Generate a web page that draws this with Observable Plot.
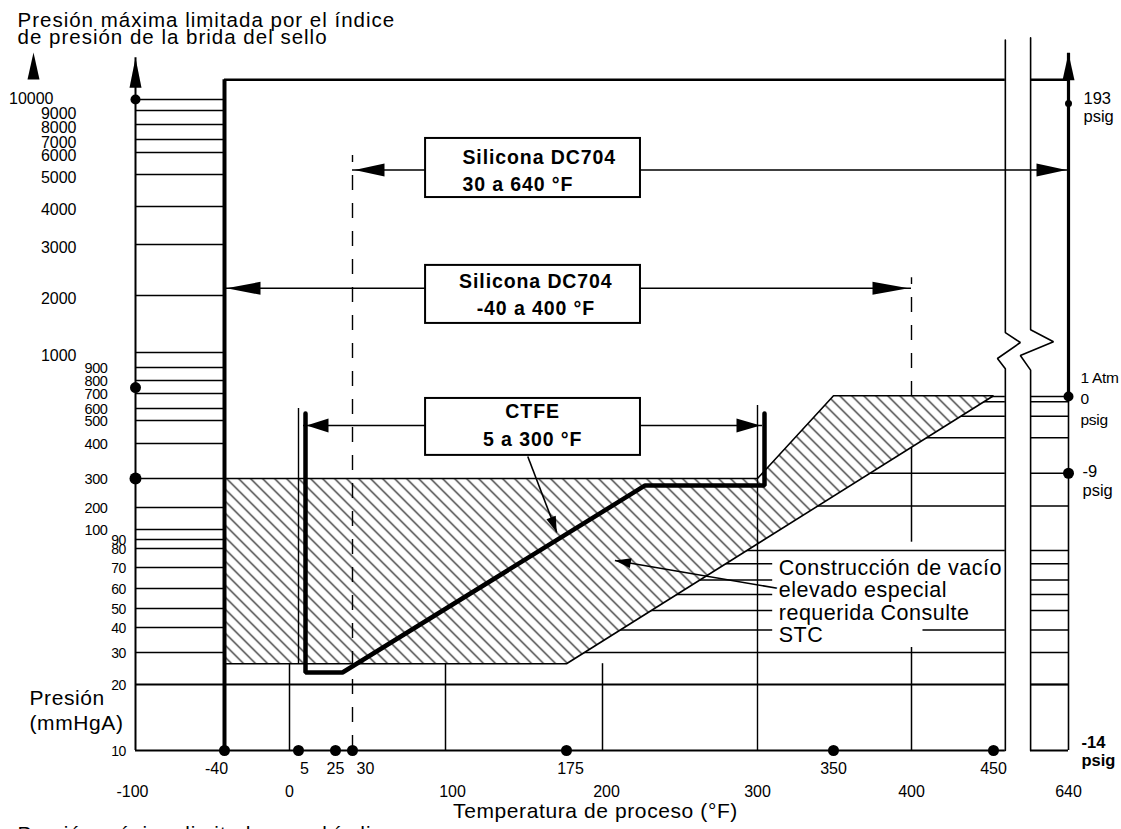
<!DOCTYPE html>
<html>
<head>
<meta charset="utf-8">
<script src="https://cdn.jsdelivr.net/npm/d3@7"></script>
<script src="https://cdn.jsdelivr.net/npm/@observablehq/plot@0.6"></script>
<style>
html, body { margin: 0; padding: 0; background: #fff; }
#chart svg { display: block; }
g[font-size="20.5"] { letter-spacing: 1.0px; }
g[font-size="21"] { letter-spacing: 0.6px; }
g[font-size="21.5"] { letter-spacing: 0.5px; paint-order: stroke; }
g[font-size="19.5"] { letter-spacing: 0.9px; }
g[font-size="15.5"] { letter-spacing: -0.3px; }
g[font-size="14.5"] { letter-spacing: -0.4px; }
g[font-size="14"] { letter-spacing: -0.7px; }
</style>
</head>
<body>
<div id="chart"></div>
<script>
// ---------------- data ----------------
// break points of the (non-uniform) temperature axis, °F
const tempBreaks = [-100, -40, 0, 5, 25, 30, 100, 175, 200, 300, 350, 400, 450, 640];
// break points of the (non-uniform) pressure axis, mmHgA
const pressBreaks = [10, 20, 30, 40, 50, 60, 70, 80, 90, 100, 200, 300, 400, 500, 600, 700, 800, 900, 1000, 2000, 3000, 4000, 5000, 6000, 7000, 8000, 9000, 10000];

// tick labels
const xLabelsUpper = [-40, 5, 25, 30, 175, 350, 450];
const xLabelsLower = [-100, 0, 100, 200, 300, 400, 640];
const yLabelsTenThousand = [10000];
const yLabelsThousands = [9000, 8000, 7000, 6000, 5000, 4000, 3000, 2000, 1000];
const yLabelsHundreds = [900, 800, 700, 600, 500, 400, 300, 200, 100];
const yLabelsTens = [90, 80, 70, 60, 50, 40, 30, 20, 10];

// pressure levels ruled in the left strip (-100 .. -40 °F)
const leftStripLevels = [10000, 9000, 8000, 7000, 6000, 5000, 4000, 3000, 2000, 1000, 900, 800, 700, 600, 500, 400, 300, 200, 100, 90, 80, 70, 60, 50, 40, 30];
const fullWidthLevels = [20, 10];

// extents of the drawing (°F / mmHgA)
const axisLeftTop = 13800, axisRightTop = 14200, frameTop = 11800;
const breakTemps = [480, 544];
const gridTempsBelowZone = [0, 100, 200];
const zoneBottom = 26.5;

// psig grid (right part of the chart)
const psigLevels = [680, 645, 535, 425, 315, 205, 79, 72, 64, 57, 49, 39, 30, 20];
const psigMain = [
  {p: 680, t0: 350, t1: 480}, {p: 645, t0: 440, t1: 480}, {p: 535, t0: 420, t1: 480},
  {p: 425, t0: 405, t1: 480}, {p: 315, t0: 370, t1: 480}, {p: 205, t0: 175, t1: 480},
  {p: 79, t0: 175, t1: 480}, {p: 72, t0: 175, t1: 310}, {p: 64, t0: 175, t1: 310},
  {p: 57, t0: 175, t1: 310}, {p: 49, t0: 175, t1: 310}, {p: 39, t0: 175, t1: 310},
  {p: 39, t0: 407, t1: 480}, {p: 30, t0: 175, t1: 480}
];

// special high vacuum construction zone
const vacuumZone = [
  {t: -40, p: 300}, {t: 300, p: 300}, {t: 350, p: 685}, {t: 450, p: 685},
  {t: 175, p: 26.5}, {t: -40, p: 26.5}, {t: -40, p: 300}
];

// CTFE limit line
const ctfePath = [
  {t: 5, p: 558}, {t: 5, p: 23.75}, {t: 25, p: 23.75}, {t: 223, p: 276}, {t: 300, p: 276}, {t: 300, p: 558}
];

// thin reference verticals
const refVerticals = [{t: 5, p0: 26.5, p1: 600}, {t: 300, p0: 10, p1: 620}];
const line400Solid = [{p0: 10, p1: 32}, {p0: 87, p1: 680}];
const dashedVerticals = [{t: 30, p0: 10, p1: 5860}, {t: 400, p0: 680, p1: 2350}];

// axis break zig-zags
const breakLeft = [{t: 480, p: 15400}, {t: 480, p: 1350}, {t: 518, p: 1175}, {t: 460, p: 960}, {t: 480, p: 890}, {t: 480, p: 10}];
const breakRight = [{t: 544, p: 15600}, {t: 544, p: 1400}, {t: 602, p: 1190}, {t: 518, p: 980}, {t: 544, p: 880}, {t: 544, p: 10}];

// fill-fluid ranges
const siliconaHigh = {t0: 30, t1: 640, p: 5200};
const siliconaLow = {t0: -40, t1: 400, p: 2140};
const ctfeRange = {t0: 5, t1: 300, p: 478};
const boxes = [
  {t0: 85, t1: 224.5, p0: 4280, p1: 7070},
  {t0: 85, t1: 224.5, p0: 1510, p1: 2590},
  {t0: 85, t1: 224.5, p0: 366, p1: 667}
];
const boxLabelHigh = {t: 110.5, p: 4470, text: "Silicona DC704\n30 a 640 °F"};
const boxLabelsCentered = [
  {t: 156, p: 1650, text: "Silicona DC704\n-40 a 400 °F"},
  {t: 154, p: 394, text: "CTFE\n5 a 300 °F"}
];
const pointers = [
  {t0: 151, p0: 363, t1: 169, p1: 97},
  {t0: 314, p0: 60, t1: 208, p1: 73.7}
];
const zoneNote = {t: 314, p: 74.7, text: "Construcción de vacío\nelevado especial\nrequerida Consulte\nSTC"};

// marked points
const leftAxisDots = [{p: 10000, r: 5}, {p: 746, r: 5.5}, {p: 300, r: 6}];
const rightAxisDots = [{p: 9640, r: 3.5}, {p: 680, r: 5}, {p: 315, r: 5.5}];
const bottomDots = [-40, 5, 25, 30, 175, 350, 450];

// right-hand gauge labels
const rightLabels = [
  {p: 9640, text: "193\npsig"},
  {p: 680, text: "1 Atm\n0\npsig"},
  {p: 315, text: "-9\npsig"}
];
const rightLabelBottom = {p: 10, text: "-14\npsig"};

// ---------------- helpers ----------------
function arrowHead(angleDeg, len, hw) {
  const a = angleDeg * Math.PI / 180, c = Math.cos(a), s = Math.sin(a);
  return {
    draw(ctx) {
      const bx = -len * c, by = -len * s;
      ctx.moveTo(0, 0);
      ctx.lineTo(bx - hw * s, by + hw * c);
      ctx.lineTo(bx + hw * s, by - hw * c);
      ctx.closePath();
    }
  };
}
const head = (data, angle, len, hw, extra = {}) =>
  Plot.dot(data, {x: "t", y: "p", symbol: arrowHead(angle, len, hw), fill: "black", stroke: "none", r: 5, ...extra});

// small horizontal nudges of the tick labels (style only)
const nudgeUpper = d => d === 30 ? 13 : d === 5 ? 6 : d === -40 ? -8 : d === 175 ? 4 : 0;
const nudgeLower = d => d === 100 ? 7 : d === 200 ? 4 : d === -100 ? -3 : 0;

// ---------------- chart ----------------
const svg = Plot.plot({
  width: 1121,
  height: 829,
  margin: 0,
  style: {fontFamily: "'Liberation Sans', Arial, sans-serif", background: "white", color: "black", overflow: "visible"},
  x: {type: "linear", domain: tempBreaks, range: [135, 224, 289, 298, 335, 352, 445, 566, 602, 757, 833, 911, 993, 1068], axis: null},
  y: {type: "linear", domain: pressBreaks, range: [750, 684, 652, 627, 608, 588, 567, 548, 539, 529, 507, 478, 443, 420, 408, 393, 380, 367, 352, 295, 244, 206, 174, 152, 139, 124, 110, 99], axis: null},
  r: {type: "identity"},
  marks: [
    // grid rules
    Plot.ruleY(leftStripLevels, {y: d => d, x1: -100, x2: -40, stroke: "black", strokeWidth: 1.5}),
    Plot.ruleY(fullWidthLevels, {y: d => d, x1: -100, x2: breakTemps[0], stroke: "black", strokeWidth: 1.8}),
    Plot.ruleY(fullWidthLevels, {y: d => d, x1: breakTemps[1], x2: 640, stroke: "black", strokeWidth: 1.8}),
    Plot.ruleY(psigMain, {y: "p", x1: "t0", x2: "t1", stroke: "black", strokeWidth: 1.5}),
    Plot.ruleY(psigLevels, {y: d => d, x1: breakTemps[1], x2: 640, stroke: "black", strokeWidth: 1.5}),
    Plot.ruleY([frameTop], {y: d => d, x1: -40, x2: breakTemps[0], stroke: "black", strokeWidth: 2.5}),
    Plot.ruleY([frameTop], {y: d => d, x1: breakTemps[1], x2: 640, stroke: "black", strokeWidth: 2.5}),
    Plot.ruleX(gridTempsBelowZone, {x: d => d, y1: 10, y2: zoneBottom, stroke: "black", strokeWidth: 1.5}),
    Plot.ruleX(line400Solid, {x: 400, y1: "p0", y2: "p1", stroke: "black", strokeWidth: 1.5}),

    // hatched zone
    Plot.line(vacuumZone, {x: "t", y: "p", fill: "url(#hatch)", stroke: "black", strokeWidth: 1.6, strokeLinejoin: "miter"}),

    // reference verticals over the zone
    Plot.ruleX(refVerticals, {x: "t", y1: "p0", y2: "p1", stroke: "black", strokeWidth: 1.4}),
    Plot.ruleX(dashedVerticals, {x: "t", y1: "p0", y2: "p1", stroke: "black", strokeWidth: 1.4, strokeDasharray: "15,13"}),

    // axes
    Plot.ruleX([-100], {x: d => d, y1: 10, y2: axisLeftTop, stroke: "black", strokeWidth: 2}),
    Plot.ruleX([-40], {x: d => d, y1: 10, y2: frameTop, stroke: "black", strokeWidth: 4}),
    Plot.ruleX([640], {x: d => d, y1: 680, y2: axisRightTop, stroke: "black", strokeWidth: 3.2}),
    Plot.ruleX([640], {x: d => d, y1: 10, y2: 680, stroke: "black", strokeWidth: 1.6}),
    Plot.line(breakLeft, {x: "t", y: "p", stroke: "black", strokeWidth: 1.6, strokeLinejoin: "miter"}),
    Plot.line(breakRight, {x: "t", y: "p", stroke: "black", strokeWidth: 1.6, strokeLinejoin: "miter"}),

    // range arrows
    Plot.ruleY([siliconaHigh, siliconaLow], {y: "p", x1: "t0", x2: "t1", stroke: "black", strokeWidth: 1.5}),
    Plot.ruleY([ctfeRange], {y: "p", x1: "t0", x2: "t1", dx: 5, stroke: "black", strokeWidth: 1.5}),
    Plot.rect(boxes, {x1: "t0", x2: "t1", y1: "p0", y2: "p1", fill: "white", stroke: "black", strokeWidth: 2}),
    Plot.text([boxLabelHigh], {x: "t", y: "p", text: "text", textAnchor: "start", lineAnchor: "bottom", lineHeight: 1.4, fontSize: 19.5, fontWeight: "bold", fill: "black"}),
    Plot.text(boxLabelsCentered, {x: "t", y: "p", text: "text", textAnchor: "middle", lineAnchor: "bottom", lineHeight: 1.4, fontSize: 19.5, fontWeight: "bold", fill: "black"}),

    // CTFE limit
    Plot.line(ctfePath, {x: "t", y: "p", dx: 7, stroke: "black", strokeWidth: 4.5, strokeLinejoin: "miter"}),

    // pointers
    Plot.link(pointers, {x1: "t0", y1: "p0", x2: "t1", y2: "p1", stroke: "black", strokeWidth: 1.6}),

    // arrowheads
    head([{t: -100, p: axisLeftTop}], -90, 30, 6),
    head([{t: 640, p: axisRightTop}], -90, 27, 6),
    head([{t: siliconaHigh.t0, p: siliconaHigh.p}], 180, 30, 6.5, {dx: 2}),
    head([{t: siliconaHigh.t1, p: siliconaHigh.p}], 0, 30, 6.5, {dx: -2}),
    head([{t: siliconaLow.t0, p: siliconaLow.p}], 180, 34, 6.5, {dx: 2}),
    head([{t: siliconaLow.t1, p: siliconaLow.p}], 0, 36, 6.5, {dx: -3}),
    head([{t: ctfeRange.t0, p: ctfeRange.p}], 180, 22, 7, {dx: 8}),
    head([{t: ctfeRange.t1, p: ctfeRange.p}], 0, 24, 7, {dx: 3}),
    head([{t: pointers[0].t1, p: pointers[0].p1}], 69, 16, 5),
    head([{t: pointers[1].t1, p: pointers[1].p1}], 189.7, 16, 5),
    Plot.dot([0], {frameAnchor: "top-left", dx: 33, dy: 52, symbol: arrowHead(-90, 27, 6), fill: "black", stroke: "none"}),

    // dots
    Plot.dot(leftAxisDots, {x: -100, y: "p", r: "r", fill: "black", stroke: "none"}),
    Plot.dot(rightAxisDots, {x: 640, y: "p", r: "r", fill: "black", stroke: "none"}),
    Plot.dot(bottomDots, {x: d => d, y: 10, r: 5.5, fill: "black", stroke: "none"}),

    // y tick labels
    Plot.text(yLabelsTenThousand, {x: -100, y: d => d, text: d => String(d), dx: -82, dy: -1, textAnchor: "end", fontSize: 16, fill: "black"}),
    Plot.text(yLabelsThousands, {x: -100, y: d => d, text: d => String(d), dx: -59, dy: 3, textAnchor: "end", fontSize: 16, fill: "black"}),
    Plot.text(yLabelsHundreds, {x: -100, y: d => d, text: d => String(d), dx: -28, dy: 1, textAnchor: "end", fontSize: 14.5, fill: "black"}),
    Plot.text(yLabelsTens, {x: -100, y: d => d, text: d => String(d), dx: -10, dy: 1, textAnchor: "end", fontSize: 14, fill: "black"}),

    // x tick labels
    ...xLabelsUpper.map(v => Plot.text([v], {x: d => d, y: () => 10, text: d => String(d), dx: nudgeUpper(v), dy: 18, fontSize: 16, fill: "black"})),
    ...xLabelsLower.map(v => Plot.text([v], {x: d => d, y: () => 10, text: d => String(d), dx: nudgeLower(v), dy: 41, fontSize: 16, fill: "black"})),

    // right gauge labels
    Plot.text([rightLabels[0]], {x: 640, y: "p", text: "text", dx: 15, dy: 4, textAnchor: "start", lineHeight: 1.1, fontSize: 16.5, fill: "black"}),
    Plot.text([rightLabels[1]], {x: 640, y: "p", text: "text", dx: 12, dy: 1, textAnchor: "start", lineHeight: 1.35, fontSize: 15.5, fill: "black"}),
    Plot.text([rightLabels[2]], {x: 640, y: "p", text: "text", dx: 14, dy: 7, textAnchor: "start", lineHeight: 1.15, fontSize: 16.5, fill: "black"}),
    Plot.text([rightLabelBottom], {x: 640, y: "p", text: "text", dx: 13, dy: 1, textAnchor: "start", lineHeight: 1.1, fontSize: 16.5, fontWeight: "bold", fill: "black"}),

    // zone note
    Plot.text([zoneNote], {x: "t", y: "p", text: "text", textAnchor: "start", lineAnchor: "top", lineHeight: 1.05, fontSize: 21.5, fill: "black", stroke: "white", strokeWidth: 6}),

    // titles
    Plot.text(["Presión máxima limitada por el índice\nde presión de la brida del sello"], {frameAnchor: "top-left", text: d => d, dx: 17, dy: 43, textAnchor: "start", lineAnchor: "bottom", lineHeight: 0.82, fontSize: 20.5, fill: "black"}),
    Plot.text(["Presión\n(mmHgA)"], {frameAnchor: "top-left", text: d => d, dx: 29, dy: 729, textAnchor: "start", lineAnchor: "bottom", lineHeight: 1.15, fontSize: 21, fill: "black"}),
    Plot.text(["Temperatura de proceso (°F)"], {frameAnchor: "top-left", text: d => d, dx: 595, dy: 817, textAnchor: "middle", lineAnchor: "bottom", fontSize: 21, fill: "black"}),
    Plot.text(["Presión máxima limitada por el índice"], {frameAnchor: "top-left", text: d => d, dx: 17, dy: 840, textAnchor: "start", lineAnchor: "bottom", fontSize: 20.5, fill: "black"})
  ]
});

// hatch pattern definition
const defs = d3.select(svg).insert("defs", ":first-child");
const pat = defs.append("pattern").attr("id", "hatch").attr("patternUnits", "userSpaceOnUse").attr("width", 12).attr("height", 12);
pat.append("rect").attr("width", 12).attr("height", 12).attr("fill", "white");
pat.append("path").attr("d", "M-1,-1L13,13M-1,11L1,13M11,-1L13,1").attr("stroke", "black").attr("stroke-width", 1.1).attr("fill", "none");

document.getElementById("chart").appendChild(svg);
</script>
</body>
</html>
